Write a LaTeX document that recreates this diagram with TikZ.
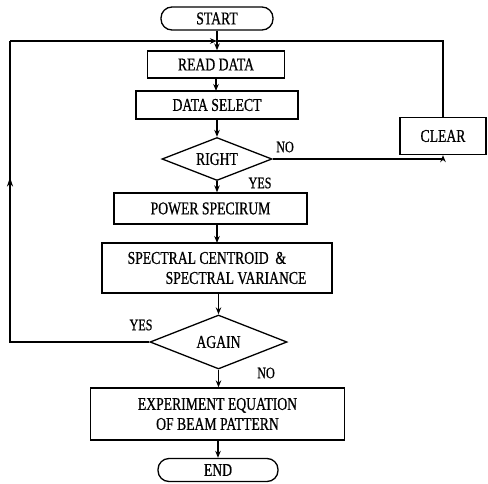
\documentclass[tikz,border=0pt]{standalone}
\usepackage{fontspec}
\setmainfont[FakeStretch=0.76,FakeBold=0.7]{Liberation Serif}
\usetikzlibrary{shapes.geometric,arrows.meta,decorations.markings}
\begin{document}
\begin{tikzpicture}[x=1pt,y=-1pt,
  every node/.style={font=\fontsize{18pt}{20pt}\selectfont, inner sep=0pt},
  box/.style={draw, line width=1.3pt, minimum width=#1},
  term/.style={draw, line width=1.3pt, rounded corners=11pt, minimum width=#1, minimum height=23pt},
  lbl/.style={font=\fontsize{16pt}{18pt}\selectfont},
  line/.style={line width=1.3pt},
  arr/.style={line width=1.3pt, -{Stealth[length=7pt,width=5.5pt]}},
  midarr/.style={line width=1.3pt, postaction={decorate}, decoration={markings, mark=at position #1 with {\arrow{Stealth[length=9pt,width=6pt]}}}}
]
\useasboundingbox (0,0) rectangle (488,483);
\node[term=112pt] (start) at (217,18.5) {START};
\node[box=137pt, minimum height=27pt] (read) at (216,64.5) {READ DATA};
\node[box=162pt, minimum height=28pt] (select) at (217,105) {DATA SELECT};
\node[box=86pt, minimum height=37pt] (clear) at (443,136) {CLEAR};
\node[draw, line width=1.3pt, diamond, aspect=2.55, minimum width=110pt, minimum height=43pt] (right) at (217,159) {RIGHT};
\node[box=193pt, minimum height=31pt] (power) at (210.5,208.5) {POWER SPECIRUM};
\node[box=230pt, minimum height=50pt, align=left] (spec) at (217,268) {SPECTRAL CENTROID \ \&\\\hspace*{38pt}SPECTRAL VARIANCE};
\node[draw, line width=1.3pt, diamond, aspect=2.54, minimum width=137pt, minimum height=54pt] (again) at (218.5,342) {AGAIN};
\node[box=254pt, minimum height=52pt, align=center] (exp) at (217.5,414) {EXPERIMENT EQUATION\\OF BEAM PATTERN};
\node[term=120pt] (end) at (218,470) {END};
\coordinate (j) at (217,41);
\coordinate (lc) at (10,342);
\coordinate (lt) at (10,41);
% connectors
\draw[line] (start.south) -- (j);
\draw[arr] (j) -- (j |- read.north);
\draw[arr] (216,78) -- (216,91);
\draw[arr] (select.south) -- (right.north);
\draw[arr] (right.south) -- (right.south |- power.north);
\draw[arr] (217,224) -- (217,243);
\draw[arr] (spec.south -| again.north) -- (again.north);
\draw[arr] (again.south) -- (again.south |- exp.north);
\draw[arr] (exp.south -| end.north) -- (end.north);
\draw[arr] (right.east) -| (clear.south);
\draw[line] (clear.north) |- (j);
\draw[midarr=0.69] (again.west) -- (lc) -- (lt);
\draw[arr] (lt) -- (j);
% labels
\node[lbl] (no1) at (285,147) {NO};
\node[lbl] (yes1) at (260,183) {YES};
\node[lbl] (yes2) at (141,325) {YES};
\node[lbl] (no2) at (266,373) {NO};
\end{tikzpicture}
\end{document}
